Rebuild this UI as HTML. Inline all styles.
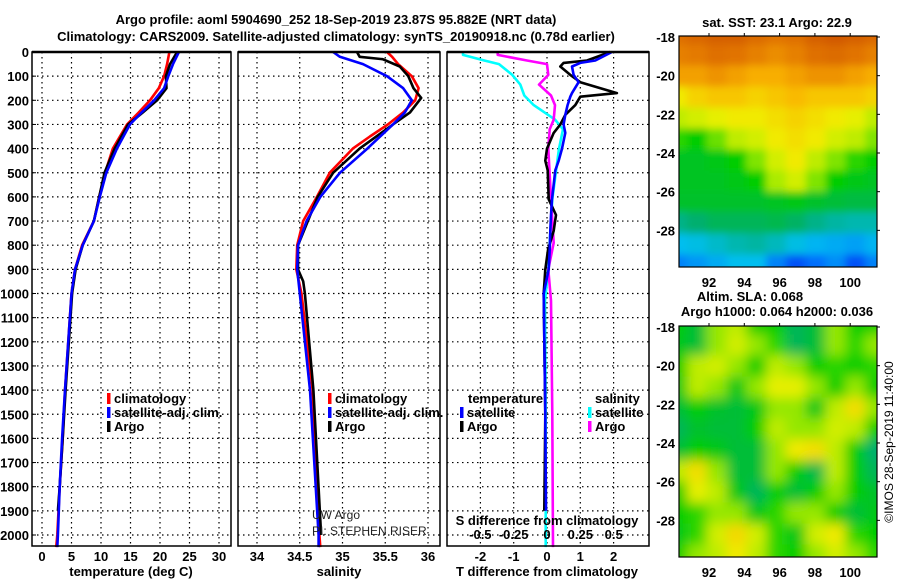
<!DOCTYPE html>
<html><head><meta charset="utf-8"><style>
html,body{margin:0;padding:0;background:#fff;}
svg{display:block;font-family:"Liberation Sans",Arial,sans-serif;}
.b{font-weight:bold;font-size:13px;}
</style></head><body>
<svg id="fig" width="900" height="580" viewBox="0 0 900 580" xmlns="http://www.w3.org/2000/svg">
<text class="b" x="336" y="24" text-anchor="middle" font-size="14">Argo profile: aoml 5904690_252 18-Sep-2019 23.87S 95.882E (NRT data)</text>
<text class="b" x="336" y="41" text-anchor="middle" font-size="14">Climatology: CARS2009. Satellite-adjusted climatology: synTS_20190918.nc (0.78d earlier)</text>
<g id="g"></g>
</svg>
<script>
// ---- profile data (depth in m) ----
const tDepth=[0,50,100,150,200,250,300,400,500,600,700,800,900,1000,1400,1600,1800,2000,2050];
const tClim=[21.6,21.2,20.7,19.8,18.3,16.4,14.4,12.0,10.7,9.7,8.8,6.8,5.6,5.0,3.9,3.5,3.0,2.6,2.4];
const tSat=[23.2,22.2,21.4,20.7,19.0,16.9,14.9,12.7,10.9,9.8,8.8,6.9,5.6,5.0,3.9,3.4,3.0,2.7,2.6];
const tArgoDepth=[0,50,100,150,200,250,300,400,500,600,700,800,900,1000,1400,1600,1800,1900];
const tArgo=[22.9,21.7,21.0,21.1,19.5,17.1,14.6,12.3,10.6,9.7,8.8,6.9,5.7,5.1,4.0,3.5,3.0,2.7];
const sDepth=[0,20,50,100,150,200,250,300,350,400,500,600,700,800,900,1000,1400,2000,2050];
const sClim=[35.52,35.58,35.65,35.81,35.89,35.85,35.71,35.53,35.32,35.12,34.85,34.70,34.54,34.47,34.46,34.52,34.65,34.73,34.74];
const sSat=[34.89,34.97,35.24,35.52,35.71,35.81,35.73,35.59,35.44,35.29,34.97,34.74,34.58,34.48,34.47,34.50,34.62,34.72,34.72];
const sArgoDepth=[0,20,30,60,100,150,190,250,300,400,500,600,800,900,950,1000,1400,2000];
const sArgo=[35.17,35.20,35.47,35.67,35.77,35.83,35.92,35.79,35.59,35.20,34.89,34.71,34.48,34.48,34.54,34.56,34.66,34.75];
// ---- difference data ----
const dDepthT=[0,35,45,60,95,125,170,185,220,260,300,335,400,450,490,610,675,740,820,900,1000,1500,1900];
const dTArgo=[1.9,1.2,0.5,0.4,0.7,1.0,2.1,1.0,0.85,0.55,0.4,0.2,0,-0.05,0.02,0.05,0.27,0.2,0.03,-0.05,-0.1,-0.05,-0.08];
const dTSat=[1.95,1.45,1.0,0.75,0.8,0.95,0.75,0.7,0.62,0.55,0.5,0.55,0.45,0.35,0.25,0.15,0.12,0.1,0.08,0.05,-0.1,-0.05,-0.03];
const dDepthS=[0,12,35,50,95,135,180,220,280,320,400,610,790,900,1030,1500,2050];
const dSArgo=[-0.37,-0.37,-0.15,0,0.01,-0.06,0.03,0.06,0.05,0.02,0.01,0.03,0.05,0.01,0.03,0.04,0.045];
const dSSat=[-0.63,-0.63,-0.47,-0.36,-0.26,-0.2,-0.17,-0.1,0.06,0.12,0.09,0.04,0.02,0.01,-0.015,-0.01,-0.01];
// ---- tick labels ----
const depthTicks=[0,100,200,300,400,500,600,700,800,900,1000,1100,1200,1300,1400,1500,1600,1700,1800,1900,2000];
const tTicks=[0,5,10,15,20,25,30];
const sTicks=["34","34.5","35","35.5","36"];
const dTTicks=["-2","-1","0","1","2"];
const dSTicks=["-0.5","-0.25","0","0.25","0.5"];
const lonTicks=[92,94,96,98,100];
const latTicks=[-18,-20,-22,-24,-26,-28];
// ---- map grids (rows lat -18..-29, cols lon 90.5..101.5), normalised colour values ----
const sstGrid=[
[0.86,0.88,0.9,0.9,0.87,0.85,0.86,0.9,0.92,0.9,0.88],
[0.83,0.84,0.86,0.85,0.83,0.81,0.83,0.86,0.87,0.85,0.83],
[0.78,0.78,0.8,0.78,0.76,0.76,0.78,0.8,0.8,0.78,0.76],
[0.66,0.7,0.72,0.72,0.7,0.72,0.74,0.72,0.72,0.72,0.7],
[0.6,0.62,0.64,0.66,0.66,0.68,0.7,0.68,0.66,0.64,0.6],
[0.52,0.5,0.55,0.6,0.62,0.66,0.68,0.66,0.62,0.6,0.56],
[0.47,0.47,0.48,0.5,0.56,0.62,0.66,0.6,0.56,0.52,0.5],
[0.47,0.47,0.47,0.48,0.5,0.58,0.62,0.56,0.5,0.48,0.47],
[0.46,0.46,0.46,0.46,0.46,0.47,0.48,0.46,0.45,0.44,0.44],
[0.38,0.4,0.42,0.42,0.42,0.43,0.41,0.38,0.36,0.35,0.35],
[0.3,0.31,0.33,0.35,0.36,0.34,0.31,0.29,0.28,0.27,0.29],
[0.24,0.26,0.28,0.3,0.3,0.24,0.18,0.22,0.25,0.18,0.24]];
const slaGrid=[
[.5,.45,.57,.6,.5,.5,.42,.45,.57,.5,.5],
[.48,.45,.57,.62,.57,.52,.42,.45,.57,.52,.57],
[.5,.6,.62,.57,.5,.6,.57,.5,.52,.5,.52],
[.48,.6,.57,.48,.57,.64,.64,.57,.5,.57,.5],
[.45,.5,.46,.45,.48,.57,.57,.48,.6,.68,.57],
[.42,.46,.45,.45,.5,.6,.57,.57,.62,.6,.5],
[.45,.5,.48,.45,.45,.57,.66,.68,.6,.5,.4],
[.6,.68,.57,.45,.45,.57,.5,.43,.6,.5,.42],
[.5,.64,.6,.48,.42,.5,.45,.5,.57,.5,.46],
[.5,.52,.57,.57,.48,.52,.57,.57,.5,.45,.48],
[.48,.52,.62,.69,.62,.52,.48,.62,.66,.52,.5],
[.5,.57,.6,.66,.6,.52,.5,.57,.62,.57,.52]];

const NS='http://www.w3.org/2000/svg';
const G=document.getElementById('g');
function el(tag,attrs,parent){const e=document.createElementNS(NS,tag);for(const k in attrs)e.setAttribute(k,attrs[k]);(parent||G).appendChild(e);return e;}
function txt(s,x,y,anchor,cls,parent){const t=el('text',{x:x,y:y,'text-anchor':anchor||'middle'},parent);if(cls)t.setAttribute('class',cls);t.textContent=s;return t;}

const TOP=52,BOT=546;
const yD=d=>TOP+d*0.2415;
const xT=t=>42+t*5.9;
const xS=s=>257+(s-34)*85.5;
const xDT=v=>547+v*33.3;
const xDS=v=>547+v*133.3;

function panel(x0,x1,name,gridX){
  const p=el('g',{});
  
  
  depthTicks.forEach(d=>{if(d>0){const l=el('line',{x1:x0,x2:x1,y1:yD(d),y2:yD(d),stroke:'#000','stroke-width':1.2,'stroke-dasharray':'1.5,3.5'},p);
    }});
  gridX.forEach(x=>{const l=el('line',{x1:x,x2:x,y1:TOP,y2:BOT,stroke:'#000','stroke-width':1.2,'stroke-dasharray':'1.5,3.5'},p);
    });
  return p;
}
function frame(x0,x1,name){
  const r=el('rect',{x:x0,y:TOP,width:x1-x0,height:BOT-TOP,fill:'none',stroke:'#000','stroke-width':1.5});
  
  el('line',{x1:x0,x2:x1,y1:TOP,y2:TOP,stroke:'#000','stroke-width':2.5});
}
function line(xs,ds,xf,color,name,w){
  const pts=xs.map((v,i)=>xf(v).toFixed(1)+','+yD(ds[i]).toFixed(1)).join(' ');
  const p=el('polyline',{points:pts,fill:'none',stroke:color,'stroke-width':w||2.6,'stroke-linejoin':'round'});
  
}
function legend(x,y,color,label,name){
  const g=el('g',{});
  el('rect',{x:x,y:y-10,width:3.5,height:11,fill:color},g);
  txt(label,x+7,y,'start','b',g);
}

// Panel 1 temperature
panel(32,231,'temperature-panel',tTicks.map(xT));
line(tClim,tDepth,xT,'#ff0000','line-temp-climatology');
line(tArgo,tArgoDepth,xT,'#000','line-temp-argo');
line(tSat,tDepth,xT,'#0000ff','line-temp-satellite');
frame(32,231,'temperature-axes');
depthTicks.forEach(d=>{const t=txt(String(d),29,yD(d)+5,'end','b');
  el('line',{x1:32,x2:36,y1:yD(d),y2:yD(d),stroke:'#000'});});
tTicks.forEach(v=>{const t=txt(String(v),xT(v),561,'middle','b');});
{const t=txt('temperature (deg C)',131,576,'middle','b');}
legend(107,403,'#ff0000','climatology','legend-entry-climatology');
legend(107,417,'#0000ff','satellite-adj. clim.','legend-entry-satellite-adj');
legend(107,431,'#000','Argo','legend-entry-argo');

// Panel 2 salinity
panel(238,440,'salinity-panel',sTicks.map(s=>xS(+s)));
line(sClim,sDepth,xS,'#ff0000','line-sal-climatology');
line(sArgo,sArgoDepth,xS,'#000','line-sal-argo');
line(sSat,sDepth,xS,'#0000ff','line-sal-satellite');
frame(238,440,'salinity-axes');
sTicks.forEach(v=>{const t=txt(v,xS(+v),561,'middle','b');});
{const t=txt('salinity',339,576,'middle','b');}
legend(328,403,'#ff0000','climatology','legend-entry-climatology-2');
legend(328,417,'#0000ff','satellite-adj. clim.','legend-entry-satellite-adj-2');
legend(328,431,'#000','Argo','legend-entry-argo-2');
{const t=txt('UW Argo',312,519,'start');t.setAttribute('font-size','12');t.setAttribute('fill','#222');}
{const t=txt('PI: STEPHEN RISER',312,535,'start');t.setAttribute('font-size','12');t.setAttribute('fill','#222');}

// Panel 3 differences
panel(447,649,'difference-panel',dTTicks.map(v=>xDT(+v)));
line(dSSat,dDepthS,xDS,'#00ffff','line-sdiff-satellite');
line(dSArgo,dDepthS,xDS,'#ff00ff','line-sdiff-argo');
line(dTArgo,dDepthT,xDT,'#000','line-tdiff-argo');
line(dTSat,dDepthT,xDT,'#0000ff','line-tdiff-satellite');
frame(447,649,'difference-axes');
dTTicks.forEach(v=>{const t=txt(v,xDT(+v),561,'middle','b');});
dSTicks.forEach(v=>{const t=txt(v,xDS(+v),539,'middle','b');});
{const t=txt('S difference from climatology',547,525,'middle','b');}
{const t=txt('T difference from climatology',547,576,'middle','b');}
{const t=txt('temperature',468,403,'start','b');}
{const t=txt('salinity',595,403,'start','b');}
legend(460,417,'#0000ff','satellite','legend-entry-t-satellite');
legend(460,431,'#000','Argo','legend-entry-t-argo');
legend(588,417,'#00ffff','satellite','legend-entry-s-satellite');
legend(588,431,'#ff00ff','Argo','legend-entry-s-argo');

// Maps
const cmStops=[[0,[0,0,170]],[0.2,[0,90,255]],[0.3,[0,190,240]],[0.4,[0,175,110]],[0.5,[0,205,0]],[0.58,[170,235,0]],[0.65,[240,240,0]],[0.75,[250,180,0]],[0.85,[225,115,0]],[1,[190,60,0]]];
function cmap(v){
  for(let i=1;i<cmStops.length;i++){if(v<=cmStops[i][0]){const a=cmStops[i-1],b=cmStops[i];const f=(v-a[0])/(b[0]-a[0]);
    return 'rgb('+a[1].map((c,k)=>Math.round(c+(b[1][k]-c)*f)).join(',')+')';}}
  return 'rgb(190,60,0)';
}
function map(grid,y0,y1,name,blur,id){
  const x0=679,x1=877;
  const xL=lon=>709+(lon-92)*17.65;
  const yL=lat=>y0+1+(-18-lat)*((y1-y0)*0.837/10);
  const g=el('g',{});
  const cp=el('clipPath',{id:'cp'+id},g);el('rect',{x:x0,y:y0,width:x1-x0,height:y1-y0},cp);
  const inner=el('g',{'clip-path':'url(#cp'+id+')'},g);
  let target=inner;
  if(blur){const f=el('filter',{id:'f'+id,x:'-20%',y:'-20%',width:'140%',height:'140%'},g);el('feGaussianBlur',{stdDeviation:blur},f);target=el('g',{filter:'url(#f'+id+')'},inner);}
  const cw=x1-x0, rows=grid.length, cols=grid[0].length;
  grid.forEach((row,r)=>row.forEach((v,c)=>{
    const rx=x0+(c-0.5)*cw/(cols-1)-2, ry=y0+(r-0.5)*(y1-y0)/(rows-1)-2;
    const rc=el('rect',{x:rx,y:ry,width:cw/(cols-1)+4,height:(y1-y0)/(rows-1)+4,fill:cmap(v)},target);
    
  }));
  el('rect',{x:x0,y:y0,width:x1-x0,height:y1-y0,fill:'none',stroke:'#000','stroke-width':1.2},g);
  latTicks.forEach(l=>{const t=txt(String(l),675,yL(l)+5,'end','b',g);
    el('line',{x1:x1,x2:x1+3,y1:yL(l),y2:yL(l),stroke:'#000'},g);});
  lonTicks.forEach(l=>{const t=txt(String(l),xL(l),y1+20,'middle','b',g);
    el('line',{x1:xL(l),x2:xL(l),y1:y0-3,y2:y0,stroke:'#000'},g);});
}
map(sstGrid,36,267,'sst-map',4,1);
map(slaGrid,326,557,'sla-map',6,2);
{const t=txt('sat. SST: 23.1 Argo: 22.9',777,27,'middle','b');}
{const t=txt('Altim. SLA: 0.068',750,301,'middle','b');}
{const t=txt('Argo h1000: 0.064 h2000: 0.036',777,316,'middle','b');}
{const t=txt('©IMOS 28-Sep-2019 11:40:00',0,0,'middle');t.setAttribute('font-size','12');t.setAttribute('transform','translate(893,442) rotate(-90)');}
</script>
</body></html>
